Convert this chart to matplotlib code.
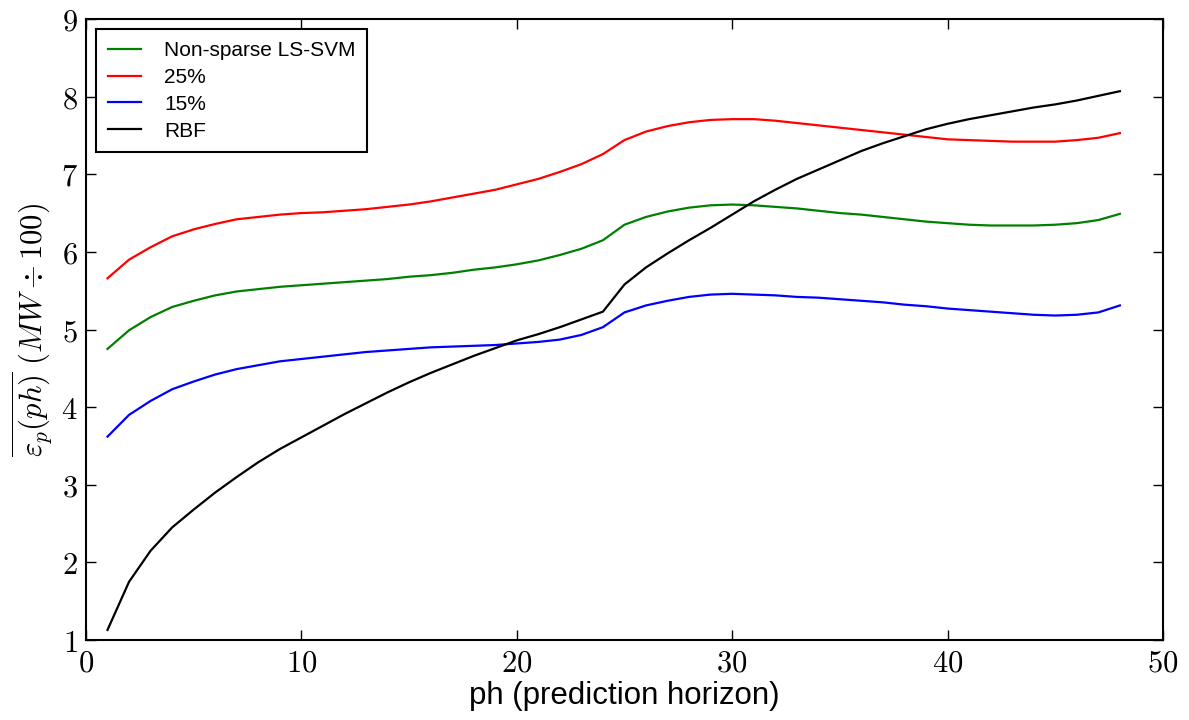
import numpy as np
import matplotlib
matplotlib.use("Agg")
import matplotlib.pyplot as plt
from matplotlib.ticker import FuncFormatter

plt.rcParams['mathtext.fontset'] = 'cm'
plt.rcParams['font.family'] = ['Liberation Sans', 'DejaVu Sans']

# prediction horizon 1..48
ph = list(range(1, 49))

non_sparse = [4.75, 4.99, 5.16, 5.29, 5.37, 5.44, 5.49, 5.52, 5.55, 5.57,
              5.59, 5.61, 5.63, 5.65, 5.68, 5.70, 5.73, 5.77, 5.80, 5.84,
              5.89, 5.96, 6.04, 6.15, 6.35, 6.45, 6.52, 6.57, 6.60, 6.61,
              6.60, 6.58, 6.56, 6.53, 6.50, 6.48, 6.45, 6.42, 6.39, 6.37,
              6.35, 6.34, 6.34, 6.34, 6.35, 6.37, 6.41, 6.49]
pct25 = [5.66, 5.90, 6.06, 6.20, 6.29, 6.36, 6.42, 6.45, 6.48, 6.50,
         6.51, 6.53, 6.55, 6.58, 6.61, 6.65, 6.70, 6.75, 6.80, 6.87,
         6.94, 7.03, 7.13, 7.26, 7.44, 7.55, 7.62, 7.67, 7.70, 7.71,
         7.71, 7.69, 7.66, 7.63, 7.60, 7.57, 7.54, 7.51, 7.48, 7.45,
         7.44, 7.43, 7.42, 7.42, 7.42, 7.44, 7.47, 7.53]
pct15 = [3.62, 3.90, 4.08, 4.23, 4.33, 4.42, 4.49, 4.54, 4.59, 4.62,
         4.65, 4.68, 4.71, 4.73, 4.75, 4.77, 4.78, 4.79, 4.80, 4.82,
         4.84, 4.87, 4.93, 5.03, 5.22, 5.31, 5.37, 5.42, 5.45, 5.46,
         5.45, 5.44, 5.42, 5.41, 5.39, 5.37, 5.35, 5.32, 5.30, 5.27,
         5.25, 5.23, 5.21, 5.19, 5.18, 5.19, 5.22, 5.31]
rbf = [1.13, 1.75, 2.15, 2.45, 2.68, 2.90, 3.10, 3.29, 3.46, 3.61,
       3.76, 3.91, 4.05, 4.19, 4.32, 4.44, 4.55, 4.66, 4.76, 4.86,
       4.94, 5.03, 5.13, 5.23, 5.58, 5.80, 5.98, 6.15, 6.31, 6.48,
       6.65, 6.80, 6.94, 7.06, 7.18, 7.30, 7.40, 7.49, 7.58, 7.65,
       7.71, 7.76, 7.81, 7.86, 7.90, 7.95, 8.01, 8.07]

fig = plt.figure(figsize=(11.89, 7.2), dpi=100)
ax = fig.add_axes([0.0723, 0.1111, 0.9058, 0.8625])

ax.plot(ph, non_sparse, color='green', lw=1.6, label='Non-sparse LS-SVM')
ax.plot(ph, pct25, color='red', lw=1.6, label='25%')
ax.plot(ph, pct15, color='blue', lw=1.6, label='15%')
ax.plot(ph, rbf, color='black', lw=1.6, label='RBF')

ax.set_xlim(0, 50)
ax.set_ylim(1, 9)
ax.set_xticks(range(0, 51, 10))
ax.set_yticks(range(1, 10))
fmt = FuncFormatter(lambda v, p: r'$%d$' % v)
ax.xaxis.set_major_formatter(fmt)
ax.yaxis.set_major_formatter(fmt)
ax.tick_params(direction='in', length=7, width=1, top=True, right=True,
               labelsize=22, pad=6)
for s in ax.spines.values():
    s.set_linewidth(1.5)

ax.set_xlabel('ph (prediction horizon)', fontsize=22.5, labelpad=2)
ax.set_ylabel(r'$\overline{\varepsilon_p(ph)}\ (MW \div 100)$', fontsize=22, labelpad=4)

leg = ax.legend(loc='upper left', fontsize=15, fancybox=False, framealpha=1,
                edgecolor='black', handlelength=1.6, borderpad=0.55,
                handletextpad=1.1, labelspacing=0.38, borderaxespad=0.5)
leg.get_frame().set_linewidth(1.5)

fig.savefig('out.png', dpi=100)
